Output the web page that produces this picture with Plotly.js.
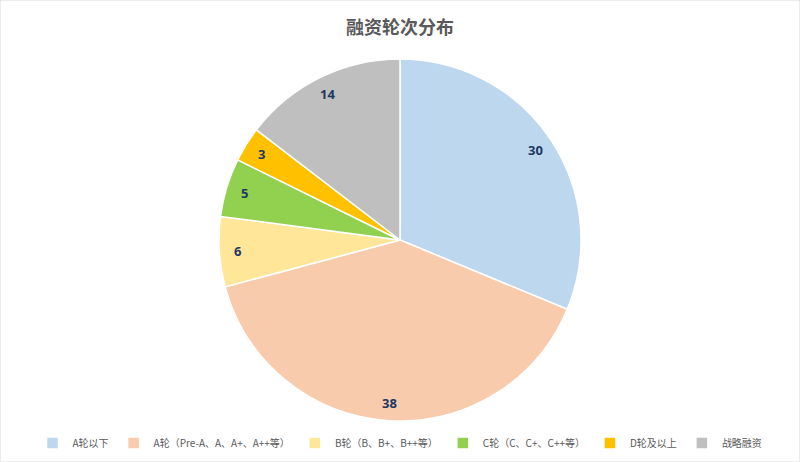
<!DOCTYPE html>
<html>
<head>
<meta charset="utf-8">
<script src="https://cdn.plot.ly/plotly-3.0.1.min.js"></script>
<style>
  html, body { margin: 0; padding: 0; background: #fff; }
  #chart { width: 800px; height: 462px; }
</style>
</head>
<body>
<div id="chart"></div>
<script>
// rounds and counts, clockwise from 12 o'clock
var rounds = ['A轮以下', 'A轮（Pre-A、A、A+、A++等）', 'B轮（B、B+、B++等）',
              'C轮（C、C+、C++等）', 'D轮及以上', '战略融资'];
var counts = [30, 38, 6, 5, 3, 14];
var colors = ['#BDD7EE', '#F8CBAD', '#FFE699', '#92D050', '#FFC000', '#BFBFBF'];

var W = 800, H = 462;
var domY = [0.0887, 0.8723];
var cy = (domY[0] + domY[1]) / 2;
var R = (domY[1] - domY[0]) * H / 2;

// data labels sit out near the rim, like the original
var total = counts.reduce(function (a, b) { return a + b; }, 0);
var annots = [];
var acc = 0;
counts.forEach(function (v) {
  var mid = (acc + v / 2) / total * 2 * Math.PI;
  acc += v;
  var r = R * 0.9;
  annots.push({
    xref: 'paper', yref: 'paper',
    x: 0.5 + r * Math.sin(mid) / W,
    y: cy + r * Math.cos(mid) / H,
    xanchor: 'center', yanchor: 'middle',
    text: '<b>' + v + '</b>',
    showarrow: false,
    font: {family: 'Noto Sans, sans-serif', size: 13, color: '#1F3864'}
  });
});

var data = [{
  type: 'pie',
  labels: rounds,
  values: counts,
  sort: false,
  direction: 'clockwise',
  rotation: 0,
  textinfo: 'none',
  hoverinfo: 'label+value',
  marker: {colors: colors, line: {color: '#ffffff', width: 1.5}},
  domain: {x: [0, 1], y: domY}
}];

var layout = {
  width: W,
  height: H,
  margin: {l: 0, r: 0, t: 0, b: 0},
  paper_bgcolor: '#ffffff',
  title: {
    text: '<b>融资轮次分布</b>',
    x: 0.5, xanchor: 'center',
    y: 0.94, yanchor: 'middle',
    font: {family: 'Noto Sans CJK SC, sans-serif', size: 18, color: '#595959'}
  },
  showlegend: true,
  legend: {
    orientation: 'h',
    x: 0.5, xanchor: 'center',
    y: 0.041, yanchor: 'middle',
    font: {family: 'Noto Sans CJK SC, sans-serif', size: 10, color: '#595959'},
    itemwidth: 30,
    itemclick: false
  },
  annotations: annots,
  shapes: [{
    type: 'rect', xref: 'paper', yref: 'paper',
    x0: 0, x1: 1, y0: 0, y1: 1,
    line: {color: '#d9d9d9', width: 1}
  }]
};

Plotly.newPlot('chart', data, layout, {displayModeBar: false, staticPlot: true});
</script>
</body>
</html>
